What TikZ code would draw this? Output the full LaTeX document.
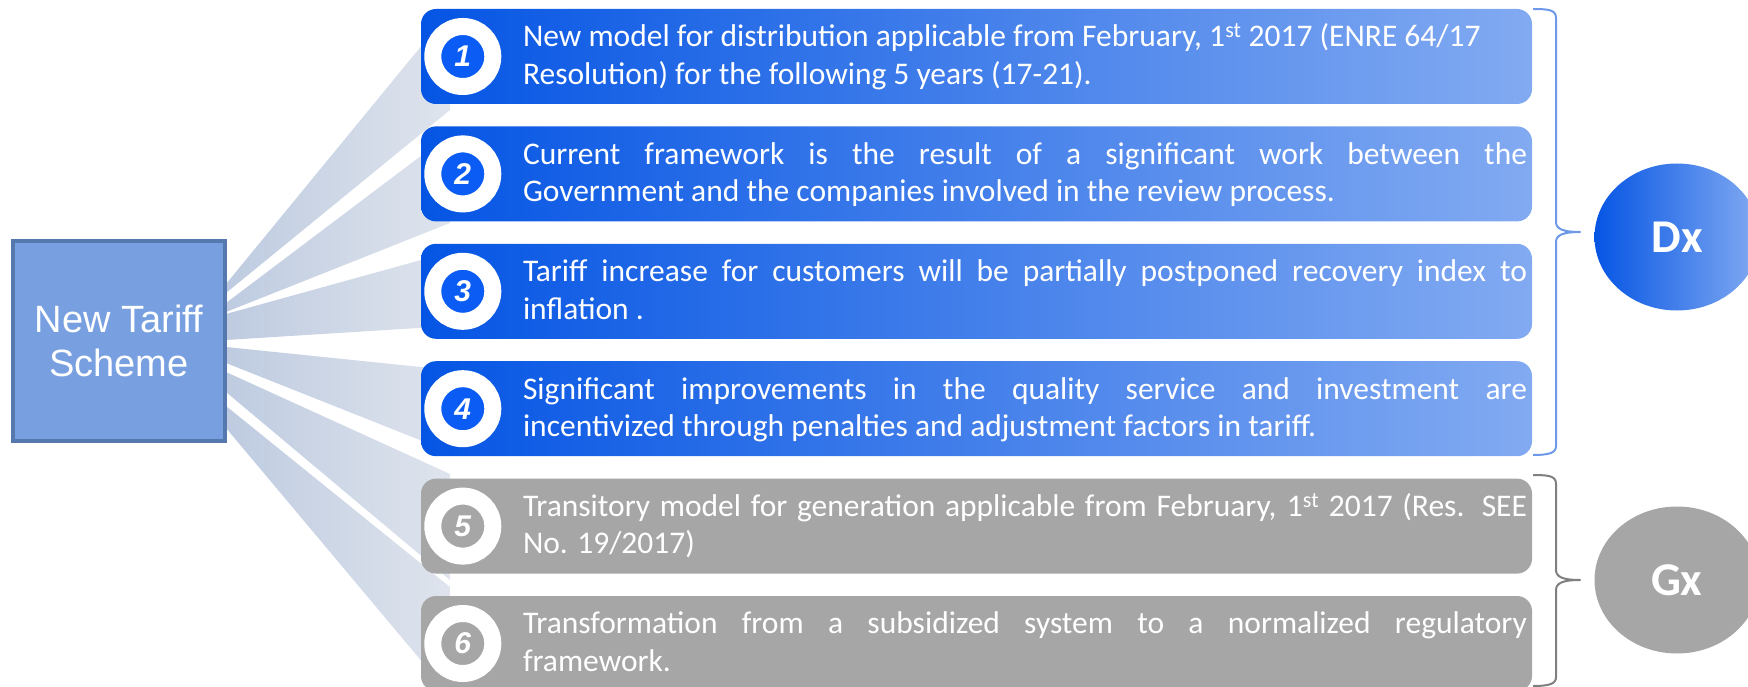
\documentclass[tikz,border=0pt]{standalone}
\usepackage{fontspec}
\setmainfont{Carlito}
\newfontfamily\arialfont{Liberation Sans}
\usetikzlibrary{positioning,shapes.geometric}

\definecolor{schemefill}{RGB}{120,160,225}
\definecolor{schemeline}{RGB}{85,120,175}
\definecolor{blueleft}{RGB}{5,85,228}
\definecolor{blueright}{RGB}{130,170,241}
\definecolor{bluenum}{RGB}{10,92,245}
\definecolor{boxgray}{RGB}{166,166,166}
\definecolor{beamdark}{RGB}{190,203,224}
\definecolor{beamlight}{RGB}{223,228,237}
\definecolor{braceblue}{RGB}{110,152,232}
\definecolor{bracegray}{RGB}{128,128,128}

\begin{document}
\begin{tikzpicture}[
  x=1pt, y=-1pt,
  node distance=22pt,
  scheme/.style={draw=schemeline, line width=4pt, fill=schemefill, minimum width=212pt, minimum height=200pt, text=white, align=center, font=\arialfont\fontsize{38}{44}\selectfont},
  dxbox/.style={rounded corners=15pt, minimum width=1111pt, minimum height=95pt, inner sep=0pt, left color=blueleft, right color=blueright},
  gxbox/.style={rounded corners=15pt, minimum width=1111pt, minimum height=95pt, inner sep=0pt, fill=boxgray},
  numring/.style={circle, draw=white, line width=17pt, minimum size=60pt, inner sep=0pt, text=white, font=\arialfont\bfseries\itshape\fontsize{30}{30}\selectfont},
  itemtext/.style={text width=1004pt, align=justify, inner sep=0pt, text=white, font=\fontsize{31.5}{37.5}\selectfont, anchor=base west},
  sector/.style={ellipse, minimum width=165pt, minimum height=147pt, inner sep=0pt, text=white, font=\bfseries\fontsize{47}{47}\selectfont},
  beam/.style={left color=beamdark, right color=beamlight},
  bracket/.style={line width=2pt, line join=round}
]
\useasboundingbox (0,0) rectangle (1748,687);
\clip (0,0) rectangle (1748,687);

% light beams behind everything
\foreach \ya/\yb/\yc/\yd in {284/11/110/293, 303/134/223/312, 314/252/326/340, 347/370/452/363, 372/474/580/392, 406/587/695/428}
  \shade[beam] (226,\ya) -- (450,\yb) -- (450,\yc) -- (226,\yd) -- cycle;

\node[scheme] (scheme) at (119,341) {New Tariff\\Scheme};

\node[dxbox] (box1) at (976.5,56.5) {};
\node[dxbox, below=of box1] (box2) {};
\node[dxbox, below=of box2] (box3) {};
\node[dxbox, below=of box3] (box4) {};
\node[gxbox, below=of box4] (box5) {};
\node[gxbox, below=of box5] (box6) {};

\node[numring, fill=bluenum] (n1) at ([xshift=42pt]box1.west) {1};
\node[numring, fill=bluenum] (n2) at ([xshift=42pt]box2.west) {2};
\node[numring, fill=bluenum] (n3) at ([xshift=42pt]box3.west) {3};
\node[numring, fill=bluenum] (n4) at ([xshift=42pt]box4.west) {4};
\node[numring, fill=boxgray] (n5) at ([xshift=42pt]box5.west) {5};
\node[numring, fill=boxgray] (n6) at ([xshift=42pt]box6.west) {6};

\node[itemtext] (t1) at ([xshift=102pt,yshift=-38pt]box1.north west) {New model for distribution applicable from February, 1\textsuperscript{st} 2017 (ENRE 64/17\newline Resolution) for the following 5 years (17-21).};
\node[itemtext] (t2) at ([xshift=102pt,yshift=-38pt]box2.north west) {Current framework is the result of a significant work between the\linebreak Government and the companies involved in the review process.};
\node[itemtext] (t3) at ([xshift=102pt,yshift=-38pt]box3.north west) {Tariff increase for customers will be partially postponed recovery index to\linebreak inflation .};
\node[itemtext] (t4) at ([xshift=102pt,yshift=-38pt]box4.north west) {Significant improvements in the quality service and investment are\linebreak incentivized through penalties and adjustment factors in tariff.};
\node[itemtext] (t5) at ([xshift=102pt,yshift=-38pt]box5.north west) {Transitory model for generation applicable from February, 1\textsuperscript{st} 2017 (Res. SEE\linebreak No. 19/2017)};
\node[itemtext] (t6) at ([xshift=102pt,yshift=-38pt]box6.north west) {Transformation from a subsidized system to a normalized regulatory\linebreak framework.};

% braces and groups
\draw[bracket, draw=braceblue] (1533,9) .. controls (1549,9) and (1556,10) .. (1556,18) -- (1556,222) .. controls (1556,229) and (1563,232) .. (1580,232) .. controls (1563,232) and (1556,235) .. (1556,242) -- (1556,446) .. controls (1556,453) and (1549,455) .. (1533,455);
\draw[bracket, draw=bracegray] (1533,475) .. controls (1549,475) and (1556,476) .. (1556,484) -- (1556,570) .. controls (1556,577) and (1563,580) .. (1580,580) .. controls (1563,580) and (1556,583) .. (1556,590) -- (1556,677) .. controls (1556,684) and (1549,686) .. (1533,686);

\node[sector, left color=blueleft, right color=blueright] (dx) at (1677,237) {Dx};
\node[sector, fill=boxgray] (gx) at (1677,580) {Gx};
\end{tikzpicture}
\end{document}
